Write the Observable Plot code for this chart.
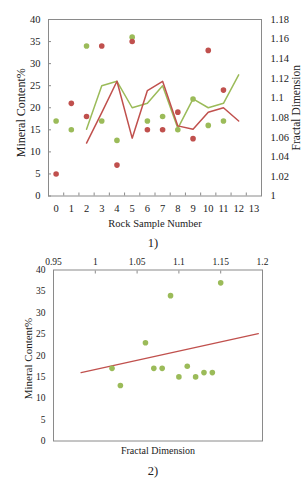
<!DOCTYPE html>
<html>
<head>
<meta charset="utf-8">
<script src="https://cdn.jsdelivr.net/npm/d3@7"></script>
<script src="https://cdn.jsdelivr.net/npm/@observablehq/plot@0.6"></script>
<style>
  html, body { margin: 0; padding: 0; background: #fff; }
  body { width: 306px; height: 480px; overflow: hidden; font-family: 'Liberation Serif', 'Times New Roman', serif; color: #222; }
  .cap { width: 306px; height: 18px; line-height: 18px; text-align: center; font-size: 12.5px; }
  svg { display: block; }
</style>
</head>
<body>
<div id="c1"></div>
<div class="cap" id="cap1">1)</div>
<div id="c2"></div>
<div class="cap" id="cap2">2)</div>
<script>
// ---------- Data: chart 1 ----------
const samples = [0, 1, 2, 3, 4, 5, 6, 7, 8, 9, 10, 11];
const greenContent = [17, 15, 34, 17, 12.6, 36, 17, 18, 15, 22, 16, 17];
const redContent = [5, 21, 18, 34, 7, 35, 15, 15, 19, 13, 33, 24];
const lineSamples = [2, 3, 4, 5, 6, 7, 8, 9, 10, 11, 12];
const greenFractal = [1.068, 1.1125, 1.117, 1.090, 1.0945, 1.1125, 1.069, 1.099, 1.090, 1.0945, 1.1235];
const redFractal = [1.054, 1.085, 1.117, 1.059, 1.1075, 1.117, 1.0715, 1.068, 1.0855, 1.090, 1.0765];
const xTickLabels = [0, 1, 2, 3, 4, 5, 6, 7, 8, 9, 10, 11, 12, 13];
const xTickMarks = [0.5, 1.5, 2.5, 3.5, 4.5, 5.5, 6.5, 7.5, 8.5, 9.5, 10.5, 11.5, 12.5];
const contentTicks = [0, 5, 10, 15, 20, 25, 30, 35, 40];
const fractalTicks = [1, 1.02, 1.04, 1.06, 1.08, 1.1, 1.12, 1.14, 1.16, 1.18];

// ---------- Data: chart 2 ----------
const scatterFractal = [1.02, 1.03, 1.06, 1.07, 1.08, 1.09, 1.10, 1.11, 1.12, 1.13, 1.14, 1.15];
const scatterContent = [17, 13, 23, 17, 17, 34, 15, 17.5, 15, 16, 16, 37];
const trendFractal = [0.983, 1.195];
const trendContent = [16, 25.1];
const fractalAxisTicks = [0.95, 1, 1.05, 1.1, 1.15, 1.2];

const GREEN = "#9bbb59";
const RED = "#c0504d";
const FRAME = "#8a8a8a";
const FONT = "'Liberation Serif', 'Times New Roman', serif";

// right axis mapping (fractal dimension 1..1.18 onto 0..40)
const fdToPct = fd => (fd - 1) / 0.18 * 40;
const pctToFd = v => 1 + v * 0.18 / 40;
const fmt = v => String(+(+v).toFixed(2));

const greenLine = lineSamples.map((s, i) => ({sample: s, y: fdToPct(greenFractal[i])}));
const redLine = lineSamples.map((s, i) => ({sample: s, y: fdToPct(redFractal[i])}));
const greenPts = samples.map((s, i) => ({sample: s, v: greenContent[i]}));
const redPts = samples.map((s, i) => ({sample: s, v: redContent[i]}));

const chart1 = Plot.plot({
  width: 306, height: 234,
  marginLeft: 48, marginRight: 45, marginTop: 19, marginBottom: 38.5,
  style: {fontFamily: FONT, fontSize: "10.5px", color: "#222", background: "white"},
  x: {type: "linear", domain: [-0.5, 13.5]},
  y: {type: "linear", domain: [0, 40]},
  marks: [
    Plot.frame({stroke: FRAME}),
    Plot.axisY(contentTicks, {anchor: "left", tickSize: 0, tickPadding: 8, label: null, fontFamily: FONT}),
    Plot.axisY(contentTicks, {anchor: "left", tickSize: 3, dx: 3, tickFormat: () => "", label: null, stroke: FRAME}),
    Plot.axisY(fractalTicks.map(fdToPct), {anchor: "right", tickSize: 0, tickPadding: 9, tickFormat: v => fmt(pctToFd(v)), label: null, fontFamily: FONT}),
    Plot.axisX(xTickLabels, {anchor: "bottom", tickSize: 0, tickPadding: 9, label: null, fontFamily: FONT}),
    Plot.axisX(xTickMarks, {anchor: "bottom", tickSize: 3, dy: -3, tickFormat: () => "", label: null, stroke: FRAME}),
    Plot.line(greenLine, {x: "sample", y: "y", stroke: GREEN, strokeWidth: 1.5}),
    Plot.line(redLine, {x: "sample", y: "y", stroke: RED, strokeWidth: 1.5}),
    Plot.dot(greenPts, {x: "sample", y: "v", fill: GREEN, r: 2.8}),
    Plot.dot(redPts, {x: "sample", y: "v", fill: RED, r: 2.8}),
    Plot.text(["Rock Sample Number"], {text: d => d, frameAnchor: "bottom", dy: 31, fontSize: 10.5}),
    Plot.text(["Mineral Content%"], {text: d => d, frameAnchor: "left", textAnchor: "middle", rotate: -90, dx: -27, dy: 5, fontSize: 12}),
    Plot.text(["Fractal Dimension"], {text: d => d, frameAnchor: "right", textAnchor: "middle", rotate: -90, dx: 35, fontSize: 11.5})
  ]
});
document.getElementById("c1").appendChild(chart1);

const scatter = scatterFractal.map((f, i) => ({fd: f, v: scatterContent[i]}));
const trend = trendFractal.map((f, i) => ({fd: f, v: trendContent[i]}));

const chart2 = Plot.plot({
  width: 306, height: 210,
  marginLeft: 53, marginRight: 44, marginTop: 17.5, marginBottom: 21.5,
  style: {fontFamily: FONT, fontSize: "9.5px", color: "#222", background: "white"},
  x: {type: "linear", domain: [0.95, 1.2]},
  y: {type: "linear", domain: [0, 40]},
  marks: [
    Plot.frame({stroke: FRAME}),
    Plot.axisY(contentTicks, {anchor: "left", tickSize: 0, tickPadding: 8, label: null, fontFamily: FONT}),
    Plot.axisX(fractalAxisTicks, {anchor: "top", tickSize: 0, tickPadding: 5, tickFormat: fmt, label: null, fontFamily: FONT}),
    Plot.axisX(fractalAxisTicks, {anchor: "top", tickSize: 3, dy: 3, tickFormat: () => "", label: null, stroke: FRAME}),
    Plot.line(trend, {x: "fd", y: "v", stroke: RED, strokeWidth: 1.3}),
    Plot.dot(scatter, {x: "fd", y: "v", fill: GREEN, r: 2.8}),
    Plot.text(["Fractal Dimension"], {text: d => d, frameAnchor: "bottom", dy: 12.5, fontSize: 10}),
    Plot.text(["Mineral Content%"], {text: d => d, frameAnchor: "left", textAnchor: "middle", rotate: -90, dx: -25, dy: 3, fontSize: 11})
  ]
});
document.getElementById("c2").appendChild(chart2);
</script>
</body>
</html>
